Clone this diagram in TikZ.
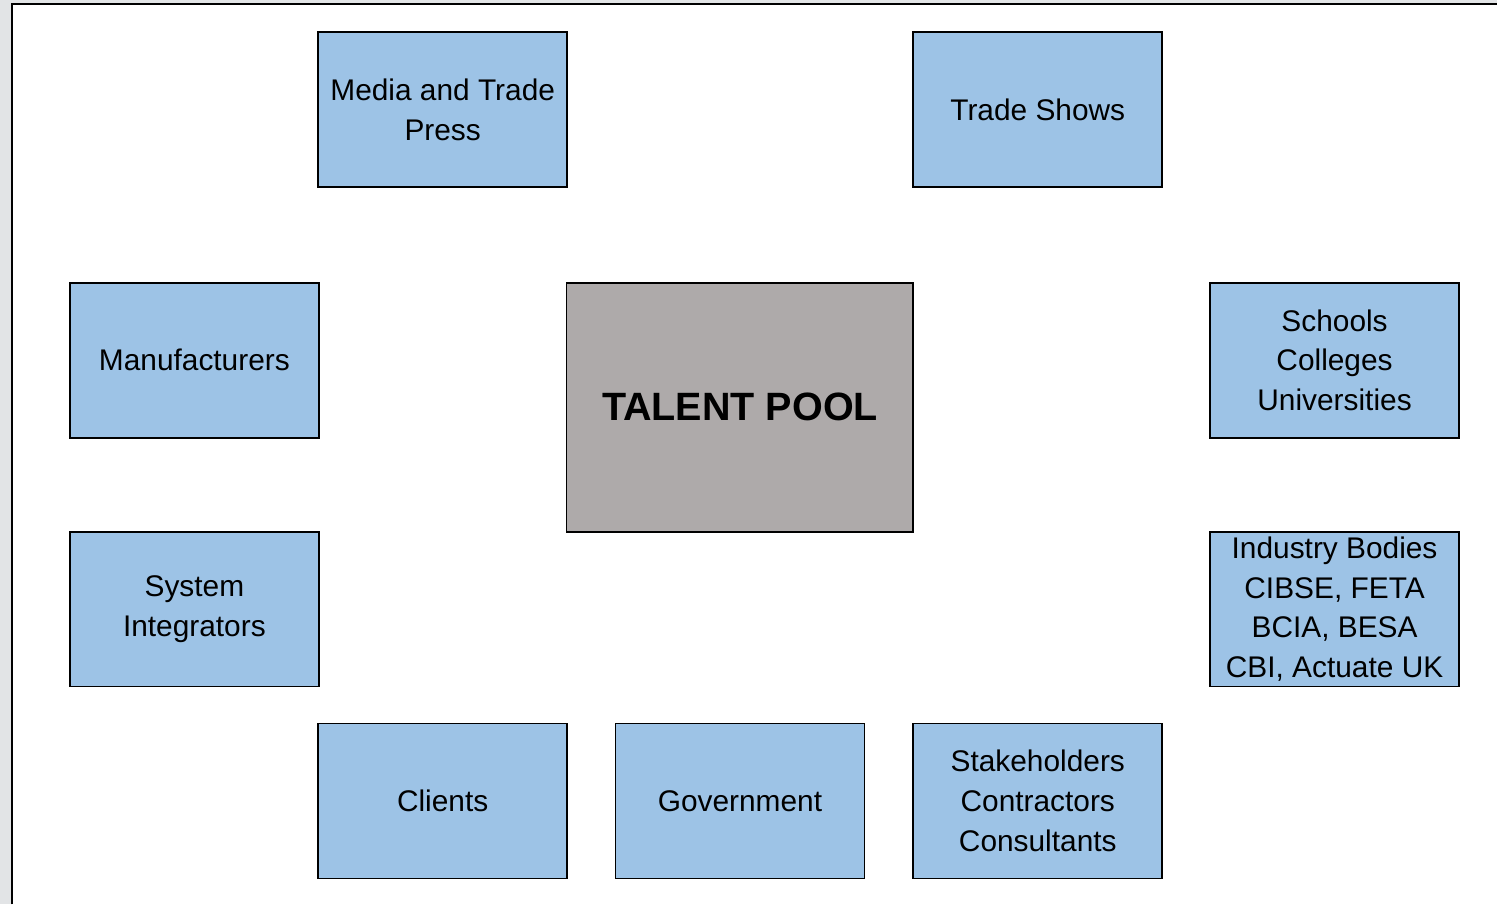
\documentclass[tikz,border=0pt]{standalone}
\usepackage{fontspec}
\setmainfont{Liberation Sans}
\usepackage{tikz}
\definecolor{boxblue}{RGB}{157,195,230}
\definecolor{poolgray}{RGB}{174,170,170}
\definecolor{edgegray}{RGB}{226,228,230}

\begin{document}
\begin{tikzpicture}[
    box/.style={draw=black,line width=1pt,fill=boxblue,minimum width=4.98cm,
        minimum height=3.1cm,align=center,inner sep=2pt,
        font=\fontsize{17}{22.7}\selectfont},
    pool/.style={draw=black,line width=1pt,fill=poolgray,minimum width=6.94cm,
        minimum height=4.98cm,font=\fontsize{22.5}{27}\selectfont\bfseries}
    ]
    \begin{scope}
    \fill [edgegray] (0,0) rectangle (29.96,-18.1);
    \fill [white] (0.24,-0.08) rectangle (29.96,-18.1);
    \draw [line width=1.2pt] (0.24,-18.1) -- (0.24,-0.08) -- (29.96,-0.08);
    \end{scope}
    \useasboundingbox (0,0) rectangle (29.96,-18.1);
    \node [pool] (talent) at (14.81,-8.15) {TALENT POOL};
    \node [box] (media)    at (8.86,-2.19)   {Media and Trade\\Press};
    \node [box] (trade)    at (20.77,-2.19)  {Trade Shows};
    \node [box] (manuf)    at (3.89,-7.21)   {Manufacturers};
    \node [box] (schools)  at (26.71,-7.21)  {Schools\\Colleges\\Universities};
    \node [box] (sysint)   at (3.89,-12.19)  {System\\Integrators};
    \node [box] (industry) at (26.71,-12.19) {Industry Bodies\\CIBSE, FETA\\BCIA, BESA\\CBI, Actuate UK};
    \node [box] (clients)  at (8.86,-16.03)  {Clients};
    \node [box] (govt)     at (14.81,-16.03) {Government};
    \node [box] (stake)    at (20.77,-16.03) {Stakeholders\\Contractors\\Consultants};
\end{tikzpicture}
\end{document}
